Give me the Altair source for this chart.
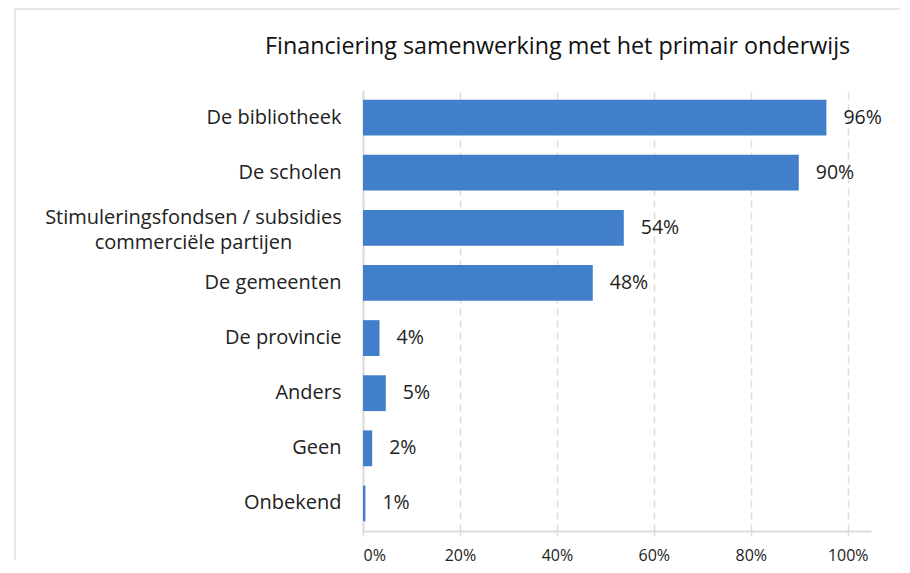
import altair as alt
import pandas as pd

categories = [
    "De bibliotheek",
    "De scholen",
    "Stimuleringsfondsen / subsidies|commerciële partijen",
    "De gemeenten",
    "De provincie",
    "Anders",
    "Geen",
    "Onbekend",
]
values = [95.6, 89.9, 53.8, 47.4, 3.4, 4.7, 1.9, 0.5]
labels = ["96%", "90%", "54%", "48%", "4%", "5%", "2%", "1%"]
x_ticks = [0, 20, 40, 60, 80, 100]

df = pd.DataFrame({"cat": categories, "val": values, "lab": labels})

FONT = "Open Sans"
BAR = "#417FCA"
GRID = "#DCDCDC"
MULTI = "indexof(datum.value, '|') >= 0"

x_enc = alt.X(
    "val:Q",
    scale=alt.Scale(domain=[0, 104.8], nice=False),
    axis=alt.Axis(
        values=x_ticks,
        labelExpr="datum.value + '%'",
        title=None,
        grid=True,
        gridDash=[7, 5],
        gridColor=GRID,
        gridWidth=1.5,
        domain=True,
        domainColor=GRID,
        domainWidth=2,
        ticks=True,
        tickColor=GRID,
        tickSize=5,
        tickWidth=1.5,
        labelFont=FONT,
        labelFontSize=16,
        labelColor="#222222",
        labelPadding=11,
    ),
)
y_enc = alt.Y(
    "cat:N",
    sort=categories,
    scale=alt.Scale(paddingInner=0.35, paddingOuter=0.175),
    axis=alt.Axis(
        title=None,
        labelExpr="split(datum.label, '|')",
        labelFont=FONT,
        labelFontSize=20,
        labelColor="#222222",
        labelPadding={"condition": {"test": MULTI, "value": 170}, "value": 22},
        labelAlign={"condition": {"test": MULTI, "value": "center"}, "value": "right"},
        labelLineHeight=25,
        labelLimit=500,
        labelOffset={"condition": {"test": MULTI, "value": -10}, "value": 0},
        domain=True,
        domainColor=GRID,
        domainWidth=2,
        ticks=False,
        grid=False,
    ),
)

base = alt.Chart(df)
bars = base.mark_bar(color=BAR).encode(x=x_enc, y=y_enc)
text = base.mark_text(
    align="left", baseline="middle", dx=17, font=FONT, fontSize=19.5, color="#222222"
).encode(x="val:Q", y=alt.Y("cat:N", sort=categories), text="lab:N")

frame_top = base.mark_rule(color="#E6E6E6", strokeWidth=2).encode(
    x=alt.value(-348), x2=alt.value(537), y=alt.value(-81)
)
frame_left = base.mark_rule(color="#E6E6E6", strokeWidth=2).encode(
    x=alt.value(-348), y=alt.value(-81), y2=alt.value(470)
)

chart = (
    alt.layer(frame_top, frame_left, bars, text)
    .properties(
        width=508,
        height=441,
        padding={"left": 6, "top": 0, "right": 0, "bottom": 6},
        title=alt.TitleParams(
            "Financiering samenwerking met het primair onderwijs",
            font=FONT,
            fontSize=23.3,
            fontWeight="normal",
            color="#111111",
            anchor="start",
            frame="group",
            dx=-98,
            offset=-51,
        ),
    )
    .configure_view(stroke=None)
)

chart.save("out.html", embed_options={"renderer": "svg", "actions": False})
